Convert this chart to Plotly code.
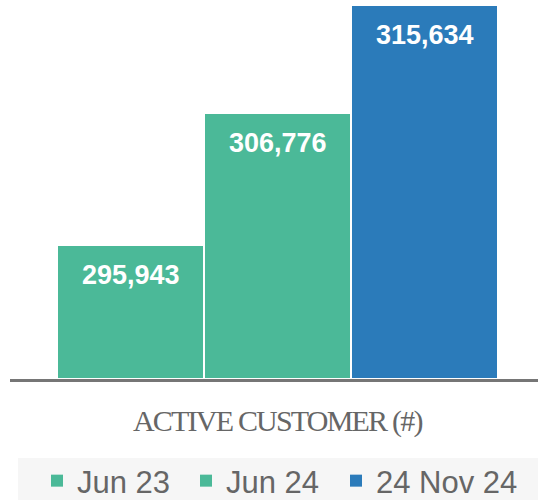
import plotly.graph_objects as go

# data
periods = ["Jun 23", "Jun 24", "24 Nov 24"]
active_customers = [295943, 306776, 315634]
bar_colors = ["#4bb998", "#4bb998", "#2b7bba"]

W, H = 538, 500
ML, MR, MT, MB = 57, 40, 0, 122
PW, PH = W - ML - MR, H - MT - MB


def px_x(p):
    return (p - ML) / PW


def px_y(p):
    return (H - MB - p) / PH


legend_ids = ["legend", "legend2", "legend3"]
legend_left = [37, 186, 336]  # pixel start of each legend item

fig = go.Figure()
for name, val, col, lg in zip(periods, active_customers, bar_colors, legend_ids):
    fig.add_trace(go.Bar(
        x=[name], y=[val],
        name=name,
        legend=lg,
        width=145 / 147,
        marker=dict(color=col, line=dict(width=0)),
        hoverinfo="skip",
    ))
    fig.add_annotation(
        x=name, y=val, text=f"{val:,}",
        showarrow=False, yanchor="middle", yshift=-29,
        font=dict(family="Liberation Sans", size=27, color="white", weight="bold"),
    )

# axis title
fig.add_annotation(
    x=0.5, y=px_y(421), xref="paper", yref="paper",
    text='<span style="letter-spacing:-1.8px">ACTIVE CUSTOMER (#)</span>',
    showarrow=False, xanchor="center", yanchor="middle",
    font=dict(family="Liberation Serif", size=30, color="#666666"),
)

# baseline and legend band
fig.add_shape(type="line", xref="paper", yref="paper",
              x0=px_x(10), x1=px_x(538), y0=px_y(380.5), y1=px_y(380.5),
              line=dict(color="#767676", width=3))
fig.add_shape(type="rect", xref="paper", yref="paper", layer="below",
              x0=px_x(18), x1=px_x(540), y0=px_y(458), y1=px_y(502),
              fillcolor="#f6f6f6", line=dict(width=0))

legend_style = dict(
    orientation="h",
    xanchor="left",
    y=px_y(481), yanchor="middle",
    bgcolor="rgba(0,0,0,0)",
    font=dict(family="Liberation Sans", size=31, color="#666666"),
)

fig.update_layout(
    width=W, height=H,
    margin=dict(l=ML, r=MR, t=MT, b=MB, autoexpand=False),
    barmode="overlay",
    paper_bgcolor="white",
    plot_bgcolor="white",
    showlegend=True,
    legend=dict(x=px_x(legend_left[0]), **legend_style),
    legend2=dict(x=px_x(legend_left[1]), **legend_style),
    legend3=dict(x=px_x(legend_left[2]), **legend_style),
    xaxis=dict(showticklabels=False, showgrid=False, zeroline=False,
               showline=False, ticks="", range=[-0.5, 2.5]),
    yaxis=dict(showticklabels=False, showgrid=False, zeroline=False,
               showline=False, ticks="", range=[285110, 316132]),
)

# drop the browser's default page margin so the figure sits at (0, 0)
fig.write_html(
    "out.html",
    config={"displayModeBar": False},
    post_script="document.body.style.margin='0';document.body.style.overflow='hidden';",
)
